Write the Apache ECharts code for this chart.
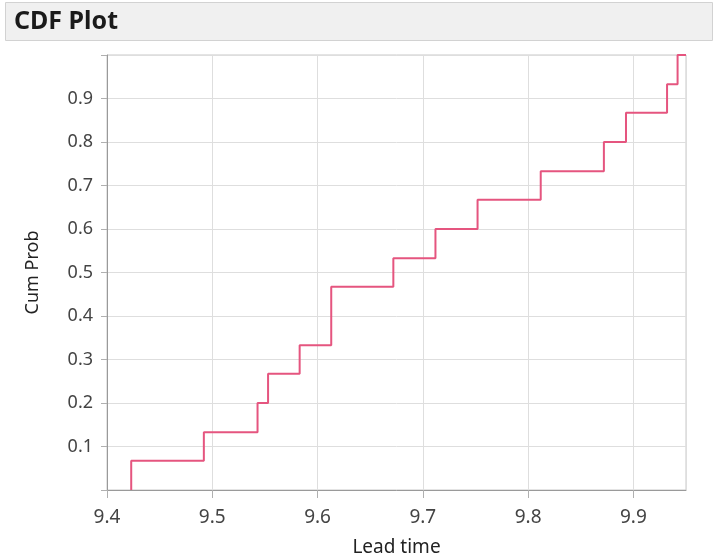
<!DOCTYPE html>
<html>
<head>
<meta charset="utf-8">
<script src="https://cdn.jsdelivr.net/npm/echarts@6/dist/echarts.min.js"></script>
<style>
  html, body { margin: 0; padding: 0; background: #fff; }
  #chart { width: 717px; height: 560px; }
</style>
</head>
<body>
<div id="chart"></div>
<script>
// step points of the empirical CDF (lead time, cumulative probability)
const leadTime = [9.423, 9.423, 9.492, 9.543, 9.553, 9.583, 9.613, 9.672, 9.712, 9.752, 9.812, 9.872, 9.893, 9.932, 9.942, 9.95]
const cumProb = [0, 0.067, 0.133, 0.2, 0.267, 0.333, 0.467, 0.533, 0.6, 0.667, 0.733, 0.8, 0.867, 0.933, 1.0, 1.0]
const xTicks = ['9.4', '9.5', '9.6', '9.7', '9.8', '9.9']
const yTicks = ['0.1', '0.2', '0.3', '0.4', '0.5', '0.6', '0.7', '0.8', '0.9']

const chart = echarts.init(document.getElementById('chart'))
const font = "'Noto Sans', 'Open Sans', sans-serif"

chart.setOption({
  animation: false,
  graphic: [{
    type: 'rect', left: 5, top: 2, z: 0,
    shape: { width: 707, height: 38 },
    style: { fill: '#f0f0f0', stroke: '#d2d2d2', lineWidth: 1 }
  }],
  title: {
    text: 'CDF Plot', left: 9, top: 4,
    textStyle: { fontFamily: font, fontSize: 25, fontWeight: 'bold', color: '#1a1a1a' }
  },
  grid: {
    left: 107, right: 31, top: 55, bottom: 70, outerBoundsMode: 'none',
    show: true, borderColor: '#c8c8c8', borderWidth: 1, backgroundColor: '#fff'
  },
  xAxis: {
    type: 'value', min: 9.4, max: 9.95, interval: 0.1,
    name: 'Lead time', nameLocation: 'middle', nameGap: 48,
    nameTextStyle: { fontFamily: font, fontSize: 19, color: '#222' },
    axisLine: { lineStyle: { color: '#9a9a9a' } },
    axisTick: { show: true, length: 8, lineStyle: { color: '#b0b0b0' } },
    axisLabel: {
      fontFamily: font, fontSize: 19, color: '#444', margin: 18, showMaxLabel: false,
      formatter: v => { const s = v.toFixed(1); return xTicks.includes(s) && Math.abs(v - Number(s)) < 1e-6 ? s : '' }
    },
    splitLine: { show: true, lineStyle: { color: '#dedede' } }
  },
  yAxis: {
    type: 'value', min: 0, max: 1, interval: 0.1,
    name: 'Cum Prob', nameLocation: 'middle', nameGap: 65,
    nameTextStyle: { fontFamily: font, fontSize: 18, color: '#222' },
    axisLine: { show: true, lineStyle: { color: '#9a9a9a' } },
    axisTick: { show: true, length: 6, lineStyle: { color: '#b0b0b0' } },
    axisLabel: {
      fontFamily: font, fontSize: 18, color: '#444', margin: 14,
      formatter: v => { const s = v.toFixed(1); return yTicks.includes(s) ? s : '' }
    },
    splitLine: { show: true, lineStyle: { color: '#dedede' } }
  },
  series: [{
    type: 'line', step: 'end', symbol: 'none',
    data: leadTime.map((x, i) => [x, cumProb[i]]),
    lineStyle: { color: '#e5557f', width: 2 }
  }]
})
</script>
</body>
</html>
